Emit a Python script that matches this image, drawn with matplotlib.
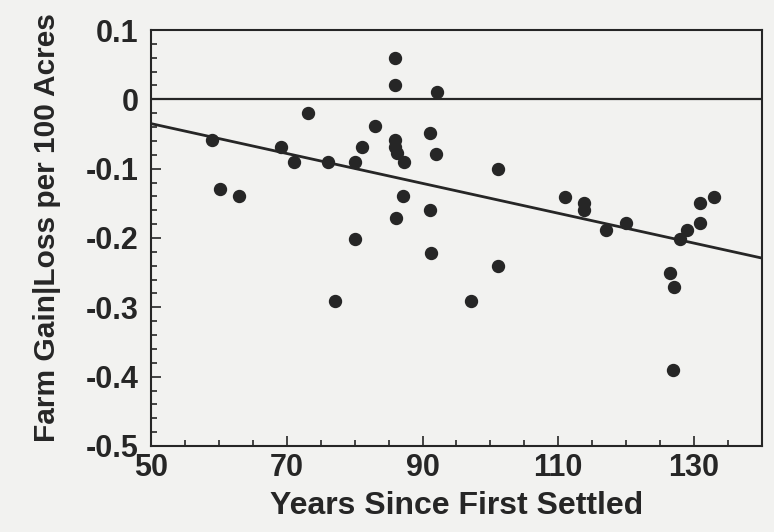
import matplotlib.pyplot as plt
from matplotlib.ticker import MultipleLocator

# years since first settled vs farm gain/loss per 100 acres
years = [86, 86, 92.2, 73.2, 83, 59, 69.2, 81.1, 91.1, 86, 86, 86.3, 87.2, 92,
         71.1, 76.1, 80.1, 60.2, 63, 87.1, 91.1, 86.1, 80.1, 91.2, 77.1,
         101.1, 111, 113.8, 113.8, 119.9, 117, 130.8, 132.9, 130.9, 128.9,
         127.9, 101.1, 97.1, 126.4, 127, 126.9]
gain = [0.060, 0.021, 0.010, -0.020, -0.039, -0.059, -0.069, -0.069, -0.049,
        -0.058, -0.069, -0.078, -0.090, -0.079, -0.090, -0.090, -0.090,
        -0.129, -0.139, -0.140, -0.160, -0.171, -0.201, -0.221, -0.291,
        -0.100, -0.141, -0.149, -0.160, -0.178, -0.188, -0.150, -0.141,
        -0.179, -0.188, -0.202, -0.240, -0.291, -0.250, -0.271, -0.391]

# fitted trend line (end points)
fit_x = [50, 140]
fit_y = [-0.035, -0.229]

xticks = [50, 70, 90, 110, 130]
yticks = [0.1, 0, -0.1, -0.2, -0.3, -0.4, -0.5]
ytick_labels = ['0.1', '0', '-0.1', '-0.2', '-0.3', '-0.4', '-0.5']

ink = '#262626'
paper = '#f2f2f0'
plt.rcParams['font.family'] = ['Liberation Sans', 'DejaVu Sans']

fig = plt.figure(figsize=(7.74, 5.32), dpi=100, facecolor=paper)
ax = fig.add_axes([0.195, 0.1617, 0.7895, 0.7819], facecolor=paper)

ax.axhline(0, color=ink, lw=1.6, zorder=1)
ax.plot(fit_x, fit_y, color=ink, lw=2.0, zorder=2)
ax.plot(years, gain, 'o', color=ink, ms=8.6, mec=ink, zorder=3)

ax.set_xlim(50, 140)
ax.set_ylim(-0.5, 0.1)
ax.set_xticks(xticks)
ax.set_yticks(yticks)
ax.set_yticklabels(ytick_labels)
ax.xaxis.set_minor_locator(MultipleLocator(5))
ax.yaxis.set_minor_locator(MultipleLocator(0.02))

ax.tick_params(which='both', direction='in', colors=ink, width=1.2,
               top=False, right=False)
ax.tick_params(which='major', length=7)
ax.tick_params(which='minor', length=4)
ax.tick_params(axis='x', pad=5, labelsize=22)
ax.tick_params(axis='y', pad=9, labelsize=22)
for lab in ax.get_xticklabels() + ax.get_yticklabels():
    lab.set_fontweight('bold')
    lab.set_color(ink)

for sp in ax.spines.values():
    sp.set_color(ink)
    sp.set_linewidth(1.5)

ax.set_xlabel('Years Since First Settled', fontsize=23, fontweight='bold',
              color=ink, labelpad=6)
ax.set_ylabel('Farm Gain|Loss per 100 Acres', fontsize=21.5,
              fontweight='bold', color=ink)
ax.yaxis.set_label_coords(-0.147, 0.525)

fig.savefig('out.png', dpi=100, facecolor=paper)
